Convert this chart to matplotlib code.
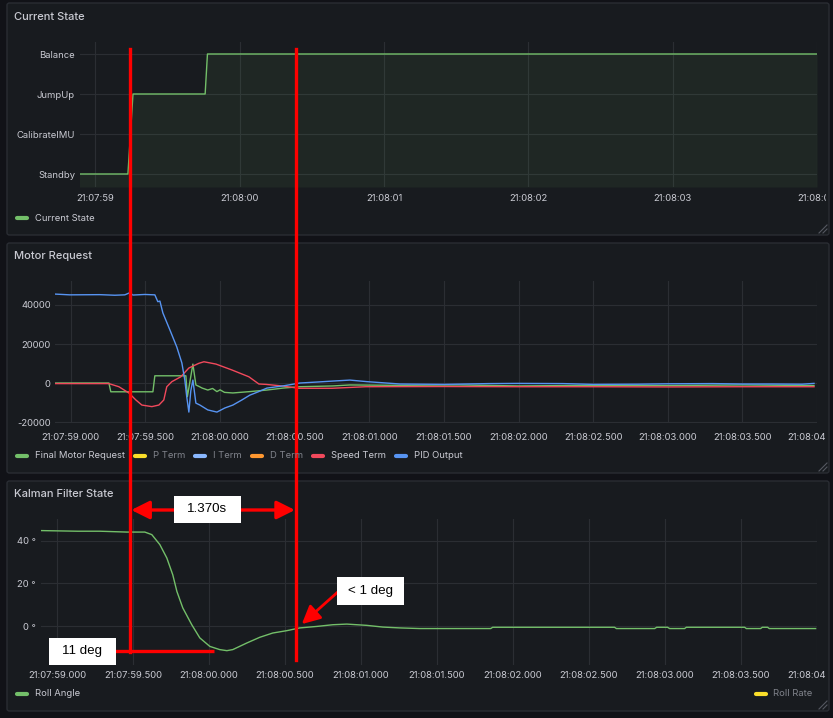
import matplotlib
matplotlib.use("Agg")
import matplotlib.pyplot as plt
import matplotlib.patches as mpatches
from matplotlib.ticker import FixedLocator, FuncFormatter
from matplotlib.transforms import blended_transform_factory, Bbox, TransformedBbox, IdentityTransform

# ---- data (seconds after 21:07:00) ----
state_names = ["Standby", "CalibrateIMU", "JumpUp", "Balance"]
state_t = [58.89, 59.226, 59.261, 59.761, 59.777, 64.0]
state_v = [0, 0, 2, 2, 3, 3]

final_t = [58.893, 59.255, 59.268, 59.550, 59.563, 59.771, 59.781, 59.818, 59.838,
           59.86, 59.88, 59.918, 59.95, 59.979, 60.00, 60.03, 60.086, 60.15, 60.20,
           60.314, 60.421, 60.535, 60.756, 60.87, 61.2, 61.6, 62.0, 62.5, 63.0, 63.5, 63.98]
final_v = [0, 0, -4500, -4500, 3700, 3700, -7000, 9700, -1000,
           -1800, -2600, -3600, -2800, -4400, -3500, -4800, -5100, -4700, -4400,
           -3600, -2600, -1900, -1500, -1000, -1200, -1000, -1500, -1200, -1300, -1000, -1300]

speed_t = [58.893, 59.255, 59.322, 59.389, 59.436, 59.476, 59.543, 59.590, 59.623,
           59.643, 59.677, 59.737, 59.791, 59.858, 59.892, 59.973, 60.079, 60.193,
           60.260, 60.307, 60.414, 60.528, 60.750, 60.977, 61.5, 62.0, 62.5, 63.0, 63.5, 63.98]
speed_v = [-300, -300, -1900, -5100, -8700, -11300, -12100, -11300, -8700,
           -1900, 700, 3200, 7700, 10100, 10900, 9700, 6700, 3200,
           -500, -700, -1500, -2700, -2700, -1900, -1800, -1900, -1900, -2000, -1900, -1900]

pid_t = [58.893, 58.993, 59.194, 59.295, 59.362, 59.395, 59.416, 59.496, 59.563,
         59.583, 59.597, 59.617, 59.664, 59.710, 59.744, 59.764, 59.777, 59.791,
         59.804, 59.818, 59.838, 59.865, 59.918, 59.979, 60.032, 60.086, 60.146,
         60.200, 60.253, 60.314, 60.421, 60.535, 60.649, 60.756, 60.870, 60.984,
         61.205, 61.5, 61.8, 62.0, 62.3, 62.5, 62.8, 63.0, 63.3, 63.5, 63.7, 63.9, 63.98]
pid_v = [45600, 45200, 45300, 45000, 45200, 46300, 45100, 45400, 45200,
         41700, 42000, 35900, 27200, 18500, 10300, 1500, -7200, -14900,
         -4000, 1500, -10300, -11300, -13800, -14900, -12800, -11300, -8700,
         -6200, -4600, -2600, -1500, 0, 500, 1000, 1500, 700,
         -500, -700, -300, -200, -300, -700, -600, -400, -300, -500, -500, -600, -200]

roll_t = [58.893, 59.136, 59.281, 59.459, 59.577, 59.623, 59.676, 59.722, 59.761,
          59.788, 59.827, 59.886, 59.939, 60.005, 60.070, 60.117, 60.156, 60.248,
          60.334, 60.419, 60.511, 60.597, 60.709, 60.814, 60.906, 61.038, 61.143,
          61.255, 61.386, 61.853, 61.866, 62.668, 62.68, 62.932, 62.945, 63.017,
          63.03, 63.129, 63.14, 63.524, 63.535, 63.629, 63.64, 63.675, 63.686, 63.991]
roll_v = [44.9, 44.6, 44.6, 44.2, 44.2, 43.0, 38.3, 32.0, 24.1,
          16.3, 8.5, 0.6, -5.6, -9.6, -11.1, -11.6, -11.1, -8.0,
          -5.3, -3.3, -2.2, -0.9, -0.2, 0.6, 0.9, 0.3, -0.5,
          -0.9, -1.2, -1.2, -0.6, -0.6, -1.2, -1.2, -0.6, -0.6,
          -1.2, -1.2, -0.6, -0.6, -1.2, -1.2, -0.6, -0.6, -1.2, -1.2]

motor_legend = ["Final Motor Request", "P Term", "I Term", "D Term", "Speed Term", "PID Output"]
motor_hidden = [False, True, True, True, False, False]

# ---- style ----
W, H = 833, 718
BG = "#111217"
PANEL = "#181b1f"
BORDER = "#2a2d33"
GRID = "#2b2e33"
TXT = "#c9cad2"
DIM = "#80838b"
GREEN, YELLOW, LBLUE, ORANGE, RED, BLUE = "#73BF69", "#FADE2A", "#8AB8FF", "#FF9830", "#F2495C", "#5794F2"
motor_colors = [GREEN, YELLOW, LBLUE, ORANGE, RED, BLUE]
plt.rcParams["font.family"] = ["Inter", "DejaVu Sans"]

fig = plt.figure(figsize=(W / 100, H / 100), dpi=100, facecolor=BG)


def frac(x0, y0, x1, y1):
    return [x0 / W, 1 - y1 / H, (x1 - x0) / W, (y1 - y0) / H]


def fx(px):
    return px / W


def fy(py):
    return 1 - py / H


panel_rows = [(3, 235), (243, 473), (481, 711)]
panel_boxes = []
for (y0, y1) in panel_rows:
    fig.patches.append(mpatches.FancyBboxPatch(
        (fx(7), fy(y1)), (829 - 7) / W, (y1 - y0) / H,
        boxstyle="round,pad=0,rounding_size=0.003", transform=fig.transFigure,
        facecolor=PANEL, edgecolor=BORDER, linewidth=1.0, zorder=-5))
    panel_boxes.append(TransformedBbox(Bbox([[fx(7), fy(y1)], [fx(826), fy(y0)]]), fig.transFigure))
    for k in (4, 8):
        fig.add_artist(plt.Line2D([fx(827 - k), fx(827)], [fy(y1 - 2), fy(y1 - 2 - k)],
                                  transform=fig.transFigure, color="#555860", lw=0.8))

titles = [("Current State", 17), ("Motor Request", 256), ("Kalman Filter State", 494)]
for name, py in titles:
    fig.text(fx(14), fy(py), name, color=TXT, fontsize=8.0, fontweight="medium",
             va="center", ha="left")


def tfmt(ms):
    def f(t, pos):
        s = t - 60 if t >= 59.9995 else t
        mm = "08" if t >= 59.9995 else "07"
        if ms:
            return "21:%s:%06.3f" % (mm, s)
        return "21:%s:%02d" % (mm, round(s))
    return FuncFormatter(f)


def style_axes(ax, step, ms, pad_y, pad_x):
    ax.set_facecolor("none")
    for sp in ax.spines.values():
        sp.set_visible(False)
    ax.set_xlim(58.894, 64.0)
    ticks = [59 + i * step for i in range(int(5 / step) + 1)]
    ax.xaxis.set_major_locator(FixedLocator(ticks))
    ax.xaxis.set_major_formatter(tfmt(ms))
    ax.tick_params(axis="both", length=0, colors=TXT, labelsize=6.8)
    ax.tick_params(axis="x", pad=pad_x)
    ax.tick_params(axis="y", pad=pad_y)
    ax.grid(True, color=GRID, lw=0.8)
    ax.set_axisbelow(True)


def legend_row(items, py, x_start=17):
    r = fig.canvas.get_renderer()
    x = x_start
    for label, color, hidden in items:
        fig.add_artist(plt.Line2D([fx(x), fx(x + 10)], [fy(py), fy(py)], transform=fig.transFigure,
                                  color=color, lw=3.0, solid_capstyle="round"))
        t = fig.text(fx(x + 18), fy(py), label, color=DIM if hidden else TXT, fontsize=6.8,
                     va="center", ha="left")
        bb = t.get_window_extent(renderer=r)
        x = bb.x1 + 9 + 1


# ---- panel 1 ----
ax1 = fig.add_axes(frac(80, 42, 817, 187))
style_axes(ax1, 1.0, False, 3.6, 5)
ax1.set_ylim(-0.325, 3.3)
ax1.yaxis.set_major_locator(FixedLocator(range(len(state_names))))
ax1.set_yticklabels(state_names)
ax1.plot(state_t, state_v, color=GREEN, lw=1.0)
ax1.fill_between(state_t, state_v, -0.325, color=GREEN, alpha=0.08, lw=0)
legend_row([("Current State", GREEN, False)], 218)

# ---- panel 2 ----
ax2 = fig.add_axes(frac(55, 281, 817, 423))
style_axes(ax2, 0.5, True, 3.0, 7)
ax2.set_ylim(-20500, 52300)
ax2.yaxis.set_major_locator(FixedLocator([-20000, 0, 20000, 40000]))
ax2.yaxis.set_major_formatter(FuncFormatter(lambda v, p: "%d" % v))
ax2.plot(final_t, final_v, color=GREEN, lw=1.0)
ax2.plot(speed_t, speed_v, color=RED, lw=1.0)
ax2.plot(pid_t, pid_v, color=BLUE, lw=1.0)
legend_row(list(zip(motor_legend, motor_colors, motor_hidden)), 456)

# ---- panel 3 ----
ax3 = fig.add_axes(frac(41, 519, 817, 665))
style_axes(ax3, 0.5, True, 3.6, 4)
ax3.set_ylim(-18.35, 50.35)
ax3.yaxis.set_major_locator(FixedLocator([0, 20, 40]))
ax3.yaxis.set_major_formatter(FuncFormatter(lambda v, p: "%d °" % v))
ax3.plot(roll_t, roll_v, color=GREEN, lw=1.0)
legend_row([("Roll Angle", GREEN, False)], 694)
fig.add_artist(plt.Line2D([fx(756), fx(766)], [fy(694), fy(694)], transform=fig.transFigure,
                          color=YELLOW, lw=3.0, solid_capstyle="round"))
fig.text(fx(812), fy(694), "Roll Rate", color=DIM, fontsize=6.8, va="center", ha="right")

# tick labels are cut at the panel border, like the dashboard does
fig.canvas.draw()
for ax, box in zip([ax1, ax2, ax3], panel_boxes):
    for tk in ax.xaxis.get_major_ticks():
        tk.label1.set_clip_box(box)
        tk.label1.set_clip_on(True)

# ---- hand-drawn red annotations (x anchored to the roll-angle time axis) ----
ann_start, ann_end = 59.478, 60.570
ann_min = -11.8
tr = blended_transform_factory(ax3.transData, fig.transFigure)
ident = IdentityTransform()


def note(x, y, text, trans, w=67, h=27):
    cx, cy = trans.transform((x, y))
    fig.add_artist(mpatches.Rectangle((cx - w / 2, cy - h / 2), w, h, transform=ident,
                                      fc="white", ec="none", zorder=6))
    fig.text(cx, cy, text, transform=ident, family=["Liberation Sans", "DejaVu Sans"],
             fontsize=9.6, color="black", ha="center", va="center", zorder=7)


fig.add_artist(plt.Line2D([ann_start, ann_start], [fy(49), fy(652)], transform=tr,
                          color="red", lw=2.4, clip_on=False))
fig.add_artist(plt.Line2D([ann_end, ann_end], [fy(49), fy(660)], transform=tr,
                          color="red", lw=2.4, clip_on=False))
ax3.plot([59.38, 60.03], [ann_min, ann_min], color="red", lw=2.4, clip_on=False,
         solid_capstyle="butt")
note(59.166, ann_min, "11 deg", ax3.transData)

# double arrow for duration
for a, b in [(59.99, ann_start + 0.01), (59.99, ann_end - 0.005)]:
    ax3.annotate("", xy=(b, fy(510)), xytext=(a, fy(510)), xycoords=tr, textcoords=tr,
                 arrowprops=dict(arrowstyle="-|>,head_length=1.1,head_width=0.55",
                                 color="red", lw=2.4, shrinkA=0, shrinkB=0))
note(59.988, fy(509.5), "%.3fs" % 1.370, tr)

ax3.annotate("", xy=(60.61, 0.9), xytext=(60.847, 16.0), xycoords="data",
             arrowprops=dict(arrowstyle="-|>,head_length=1.1,head_width=0.55",
                             color="red", lw=2.0, shrinkA=0, shrinkB=0), annotation_clip=False)
note(61.06, 16.5, "< 1 deg", ax3.transData, h=28)

fig.savefig("out.png", dpi=100, facecolor=BG)
